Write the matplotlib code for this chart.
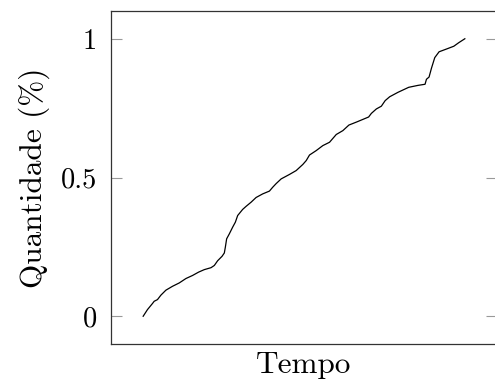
import matplotlib
matplotlib.use('Agg')
import matplotlib.pyplot as plt

plt.rcParams['font.family'] = ['cmr10', 'DejaVu Serif']
plt.rcParams['mathtext.fontset'] = 'cm'
plt.rcParams['axes.formatter.use_mathtext'] = True

# curva (tempo normalizado 0-100, quantidade 0-1)
tempo = [0, 1.34, 2.90, 3.43, 4.45, 5.51, 7.07, 9.13, 11.21, 13.30, 15.36,
         17.23, 19.00, 21.09, 22.12, 23.15, 24.52, 25.23, 25.55, 25.95, 26.79,
         27.82, 28.66, 29.38, 30.93, 31.99, 33.55, 35.11, 37.17, 39.25, 40.28,
         41.34, 42.90, 45.48, 47.57, 49.63, 50.69, 51.71, 53.80, 55.86, 57.94,
         60.03, 62.09, 63.96, 66.36, 70.09, 70.94, 72.49, 74.05, 75.23, 76.64,
         79.22, 82.55, 85.45, 87.63, 88.07, 88.88, 89.63, 90.65, 91.99, 94.30,
         96.57, 98.13, 100]
quantidade = [0, 0.024, 0.046, 0.054, 0.060, 0.076, 0.094, 0.108, 0.120, 0.136,
              0.147, 0.159, 0.168, 0.175, 0.183, 0.200, 0.216, 0.228, 0.249,
              0.279, 0.297, 0.321, 0.339, 0.363, 0.385, 0.396, 0.411, 0.428,
              0.441, 0.451, 0.465, 0.478, 0.495, 0.511, 0.525, 0.547, 0.561,
              0.581, 0.597, 0.615, 0.627, 0.655, 0.669, 0.689, 0.700, 0.718,
              0.731, 0.747, 0.757, 0.777, 0.791, 0.807, 0.825, 0.832, 0.836,
              0.854, 0.862, 0.894, 0.932, 0.953, 0.963, 0.973, 0.986, 1.0]

yticks = [0, 0.5, 1]
ytick_labels = ['0', '0.5', '1']

fig = plt.figure(figsize=(4.95, 3.85), dpi=100)
ax = fig.add_axes([111 / 495, 1 - 344 / 385, 386 / 495, 333 / 385])

ax.plot(tempo, quantidade, color='black', linewidth=0.9)

# margens tipo pgfplots (enlargelimits=0.1)
ax.set_xlim(-10, 110)
ax.set_ylim(-0.1, 1.1)

ax.set_xticks([])
ax.set_yticks(yticks)
ax.set_yticklabels(ytick_labels)
ax.tick_params(axis='y', direction='in', length=8, width=0.8, color='#999999',
               left=True, right=True, labelsize=20.5, pad=10)

for s in ax.spines.values():
    s.set_linewidth(0.9)
    s.set_color('#333333')

ax.set_xlabel('Tempo', fontsize=22.5, labelpad=5)
ax.set_ylabel('Quantidade (%)', fontsize=22.5, labelpad=8)

plt.savefig('out.png', dpi=100)
